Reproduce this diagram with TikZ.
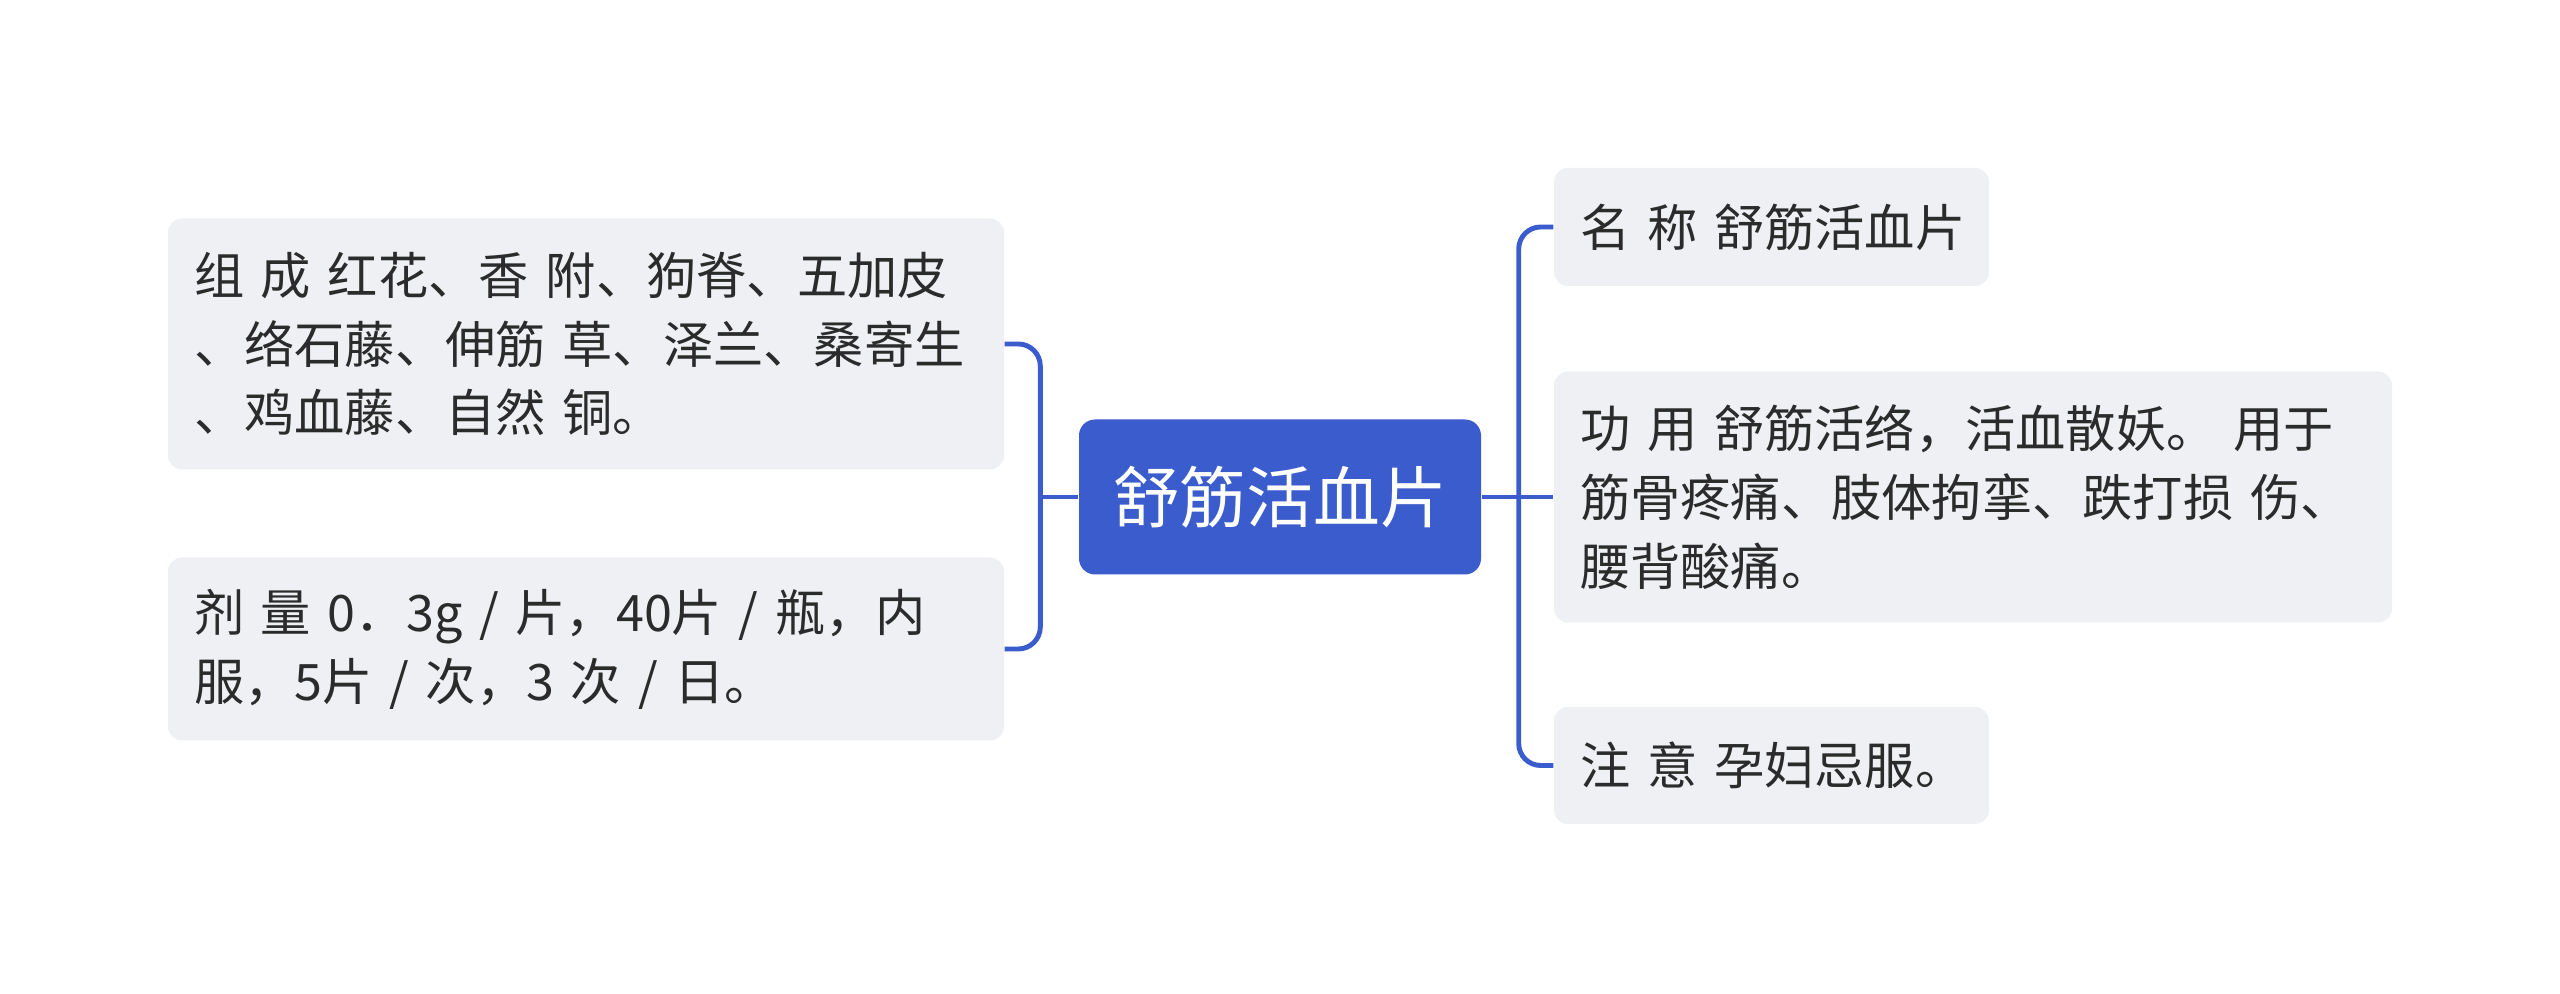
\documentclass[tikz,border=0pt]{standalone}
\usepackage{fontspec}
\setmainfont{Noto Sans CJK SC}
\definecolor{mmblue}{HTML}{3A5CCC}
\definecolor{mmgray}{HTML}{EEF0F3}
\definecolor{mmtext}{HTML}{2B2B2B}
\usetikzlibrary{positioning,calc}

\begin{document}
\begin{tikzpicture}[
  leaf/.style={fill=mmgray, rounded corners=0.14cm, inner xsep=0.26cm, align=left,
    text=mmtext, font=\fontsize{14.3pt}{19.6pt}\selectfont},
  link/.style={draw=mmblue, line width=1.4pt, rounded corners=0.22cm}]
  \useasboundingbox (0,0) rectangle (25.6,9.94);

  %--- root ---
  \node[fill=mmblue, rounded corners=0.16cm, minimum width=4.02cm, minimum height=1.55cm,
    text=white, font=\fontsize{19pt}{22pt}\selectfont] (root) at (12.80,4.97) {舒筋活血片};

  %--- left side ---
  \node[leaf, text width=7.84cm, minimum height=2.51cm] (zucheng) at (5.86,6.50)
    {组 成 红花、香 附、狗脊、五加皮\\、络石藤、伸筋 草、泽兰、桑寄生\\、鸡血藤、自然 铜。};
  \node[leaf, text width=7.84cm, minimum height=1.83cm] (jiliang) at (5.86,3.45)
    {剂 量 0．3g /  片，40片 / 瓶，内\\服，5片 / 次，3 次 / 日。};

  %--- right side ---
  \node[leaf, text width=3.83cm, minimum height=1.18cm] (mingcheng) at (17.715,7.67)
    {\mbox{名 称 舒筋活血片}};
  \node[leaf, text width=7.86cm, minimum height=2.51cm] (gongyong) at (19.73,4.97)
    {功 用 舒筋活络，活血散妖。 用于\\筋骨疼痛、肢体拘挛、跌打损 伤、\\腰背酸痛。};
  \node[leaf, text width=3.83cm, minimum height=1.17cm] (zhuyi) at (17.715,2.285)
    {\mbox{注 意 孕妇忌服。}};

  %--- connectors ---
  \coordinate (lbus) at ($(root.west)+(-0.38,0)$);
  \coordinate (rbus) at ($(root.east)+(0.37,0)$);
  \draw[link] (root.west) -- (lbus);
  \draw[link] (lbus) |- (zucheng.east);
  \draw[link] (lbus) |- (jiliang.east);
  \draw[link] (root.east) -- (rbus);
  \draw[link] (rbus) |- (mingcheng.west);
  \draw[link] (rbus) -- (gongyong.west);
  \draw[link] (rbus) |- (zhuyi.west);
\end{tikzpicture}
\end{document}
